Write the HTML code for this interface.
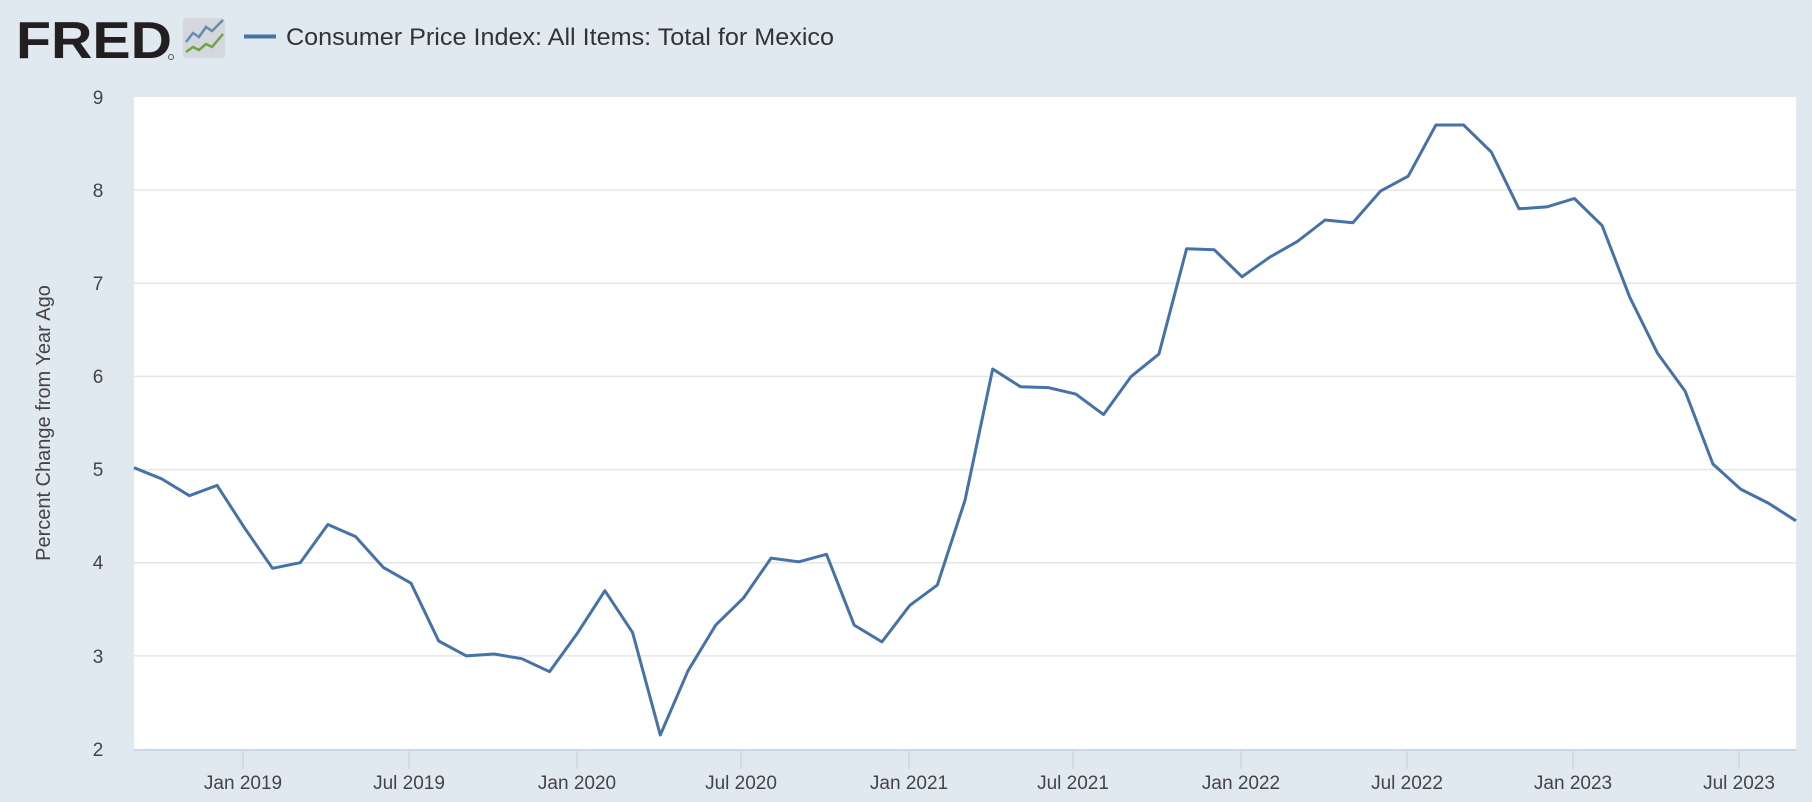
<!DOCTYPE html>
<html><head><meta charset="utf-8"><style>
html,body{margin:0;padding:0;background:#e1e9f0;}
svg{display:block;font-family:"Liberation Sans",sans-serif;}
</style></head><body>
<svg width="1812" height="802" viewBox="0 0 1812 802" xmlns="http://www.w3.org/2000/svg">
<rect width="1812" height="802" fill="#e1e9f0"/>
<text x="16" y="58" font-size="52" font-weight="bold" fill="#231f20" textLength="156" lengthAdjust="spacingAndGlyphs">FRED</text>
<circle cx="171" cy="57" r="2.5" fill="none" stroke="#555" stroke-width="1"/>
<rect x="183" y="18" width="42" height="40" rx="3" fill="#d4d8dc"/>
<polyline points="186,42 193,33 199,37 206,27 212,31 223,20" fill="none" stroke="#5f8fb0" stroke-width="2.5"/>
<polyline points="186,52 193,47 199,50 206,44 212,47 223,34" fill="none" stroke="#6aa642" stroke-width="2.5"/>
<line x1="244" y1="36.5" x2="276" y2="36.5" stroke="#4572a7" stroke-width="4"/>
<text x="286" y="45" font-size="24" fill="#333" textLength="548" lengthAdjust="spacingAndGlyphs">Consumer Price Index: All Items: Total for Mexico</text>
<rect x="134" y="97" width="1662" height="652" fill="#fff"/>
<g stroke="#e6e6e6" stroke-width="1.5">
<line x1="134" x2="1796" y1="190.1" y2="190.1"/><line x1="134" x2="1796" y1="283.3" y2="283.3"/>
<line x1="134" x2="1796" y1="376.4" y2="376.4"/><line x1="134" x2="1796" y1="469.6" y2="469.6"/>
<line x1="134" x2="1796" y1="562.7" y2="562.7"/><line x1="134" x2="1796" y1="655.9" y2="655.9"/>
</g>
<line x1="134" x2="1796" y1="750" y2="750" stroke="#ccd6eb" stroke-width="2"/>
<g stroke="#ccd6eb" stroke-width="1.5">
<line x1="243" x2="243" y1="750" y2="769"/><line x1="409" x2="409" y1="750" y2="769"/>
<line x1="577" x2="577" y1="750" y2="769"/><line x1="741" x2="741" y1="750" y2="769"/>
<line x1="909" x2="909" y1="750" y2="769"/><line x1="1073" x2="1073" y1="750" y2="769"/>
<line x1="1241" x2="1241" y1="750" y2="769"/><line x1="1407" x2="1407" y1="750" y2="769"/>
<line x1="1573" x2="1573" y1="750" y2="769"/><line x1="1739" x2="1739" y1="750" y2="769"/>
</g>
<g font-size="19" fill="#444" text-anchor="middle">
<text x="243" y="789">Jan 2019</text><text x="409" y="789">Jul 2019</text>
<text x="577" y="789">Jan 2020</text><text x="741" y="789">Jul 2020</text>
<text x="909" y="789">Jan 2021</text><text x="1073" y="789">Jul 2021</text>
<text x="1241" y="789">Jan 2022</text><text x="1407" y="789">Jul 2022</text>
<text x="1573" y="789">Jan 2023</text><text x="1739" y="789">Jul 2023</text>
</g>
<g font-size="19" fill="#444" text-anchor="middle">
<text x="98" y="104">9</text><text x="98" y="197">8</text><text x="98" y="290">7</text>
<text x="98" y="383">6</text><text x="98" y="476">5</text><text x="98" y="569">4</text>
<text x="98" y="663">3</text><text x="98" y="756">2</text>
</g>
<text transform="translate(50,423) rotate(-90)" font-size="20" fill="#444" text-anchor="middle">Percent Change from Year Ago</text>
<polyline fill="none" stroke="#4572a7" stroke-width="3" stroke-linejoin="round" points="134.0,467.7 161.7,478.9 189.4,495.7 217.1,485.4 244.8,528.3 272.5,568.3 300.2,562.7 327.9,524.5 355.6,536.6 383.3,567.4 411.0,583.2 438.7,641.0 466.4,655.9 494.1,654.0 521.8,658.7 549.5,671.7 577.2,633.5 604.9,590.7 632.6,632.6 660.3,735.0 688.0,670.8 715.7,625.1 743.4,598.1 771.1,558.1 798.8,561.8 826.5,554.3 854.2,625.1 881.9,641.9 909.6,605.6 937.3,585.1 965.0,500.3 992.7,369.0 1020.4,386.7 1048.1,387.6 1075.8,394.1 1103.5,414.6 1131.2,376.4 1158.9,354.1 1186.6,248.8 1214.3,249.8 1242.0,276.8 1269.7,257.2 1297.4,241.4 1325.1,220.0 1352.8,222.8 1380.5,191.1 1408.2,176.2 1435.9,125.0 1463.6,125.0 1491.3,152.0 1519.0,208.8 1546.7,206.9 1574.4,198.5 1602.1,225.6 1629.8,297.3 1657.5,353.2 1685.2,391.3 1712.9,464.0 1740.6,489.1 1768.3,503.1 1796.0,520.8"/>
</svg>
</body></html>
